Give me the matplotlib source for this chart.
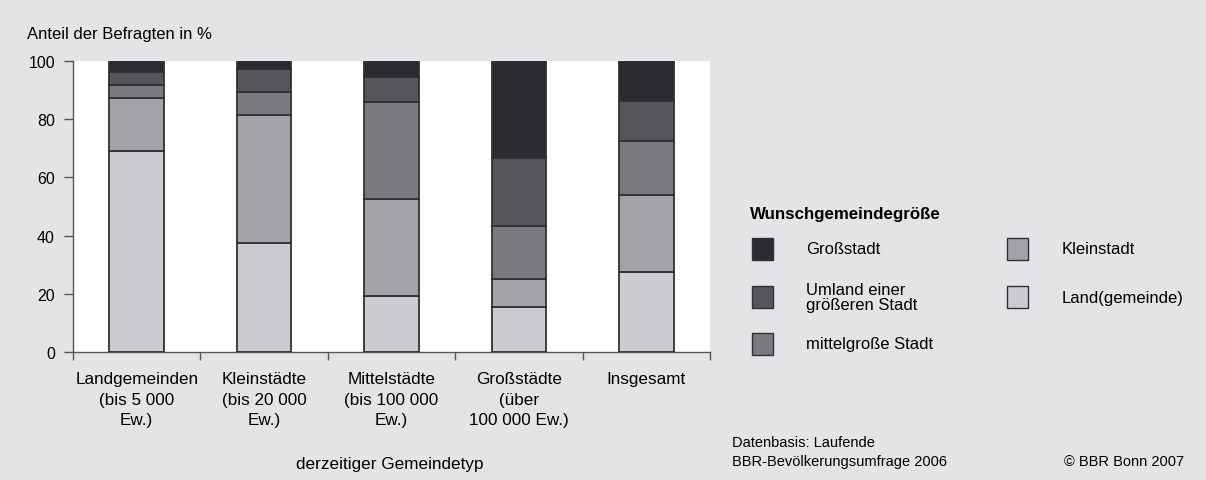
import matplotlib
matplotlib.use("Agg")
import matplotlib.pyplot as plt
from matplotlib.patches import Rectangle

plt.rcParams['font.family'] = ['Liberation Sans', 'DejaVu Sans']

# Data (Anteil der Befragten in %), stacked from bottom to top
categories = ["Landgemeinden\n(bis 5 000\nEw.)", "Kleinstädte\n(bis 20 000\nEw.)",
              "Mittelstädte\n(bis 100 000\nEw.)", "Großstädte\n(über\n100 000 Ew.)",
              "Insgesamt"]
land = [69.2, 37.3, 19.4, 15.3, 27.4]
kleinstadt = [18.1, 44.1, 33.3, 9.8, 26.7]
mittel = [4.6, 7.9, 33.3, 18.3, 18.3]
umland = [4.4, 8.1, 8.5, 23.4, 13.7]
grossstadt = [3.7, 2.6, 5.5, 33.2, 13.9]

series = [
    ("Land(gemeinde)", land, "#cbcccf"),
    ("Kleinstadt", kleinstadt, "#a1a3a7"),
    ("mittelgroße Stadt", mittel, "#7a7b80"),
    ("Umland einer\ngrößeren Stadt", umland, "#55565a"),
    ("Großstadt", grossstadt, "#2b2c30"),
]

W, H = 1206, 481
bg = "#e3e4e6"
edge = "#303134"

def fx(x):
    return x / W

def fy(y):
    return 1 - y / H

fig = plt.figure(figsize=(W / 100, H / 100), dpi=100, facecolor=bg)
ax = fig.add_axes([fx(73), fy(353), (710 - 73) / W, (353 - 62) / H])
ax.set_facecolor("white")

xs = list(range(len(categories)))
bottom = [0] * len(categories)
for name, vals, col in series:
    ax.bar(xs, vals, bottom=bottom, width=0.43, color=col,
           edgecolor=edge, linewidth=1.3, zorder=3)
    bottom = [b + v for b, v in zip(bottom, vals)]

ax.set_xlim(-0.5, 4.5)
ax.set_ylim(0, 100)
ax.set_yticks([0, 20, 40, 60, 80, 100])
ax.tick_params(axis='y', direction='out', length=6.5, width=1, color="#555",
               labelsize=11.5, pad=6.5)
ax.set_xticks([x - 0.5 for x in range(6)])
ax.set_xticklabels([])
ax.tick_params(axis='x', direction='out', length=6, width=1, color="#555")
for x, lab in zip(xs, categories):
    ax.text(x, -6.5, lab, ha='center', va='top', fontsize=12.3,
            linespacing=1.47, transform=ax.transData, clip_on=False)
for s in ("top", "right"):
    ax.spines[s].set_visible(False)
for s in ("left", "bottom"):
    ax.spines[s].set_color("#555")
    ax.spines[s].set_linewidth(1)

fig.text(fx(27), fy(34), "Anteil der Befragten in %", fontsize=12, va='center')
fig.text(fx(390), fy(464), "derzeitiger Gemeindetyp", fontsize=12.3,
         ha='center', va='center')

# legend
fig.text(fx(750), fy(215), "Wunschgemeindegröße", fontsize=12.2,
         fontweight='bold', va='center')
legend_pos = {
    "Großstadt": (752, 250),
    "Umland einer\ngrößeren Stadt": (752, 298),
    "mittelgroße Stadt": (752, 345),
    "Kleinstadt": (1007, 250),
    "Land(gemeinde)": (1007, 298),
}
for name, vals, col in series:
    px, py = legend_pos[name]
    fig.add_artist(Rectangle((fx(px), fy(py + 11)), 21 / W, 22 / H,
                             transform=fig.transFigure, facecolor=col,
                             edgecolor=edge, linewidth=1))
    tx = px + 54 if px < 900 else px + 55
    fig.text(fx(tx), fy(py), name, fontsize=12, va='center',
             linespacing=1.05)

fig.text(fx(732), fy(443), "Datenbasis: Laufende", fontsize=10.5, va='center')
fig.text(fx(732), fy(462), "BBR-Bevölkerungsumfrage 2006", fontsize=10.5,
         va='center')
fig.text(fx(1184), fy(462), "© BBR Bonn 2007", fontsize=10.5, ha='right',
         va='center')

fig.savefig("out.png", dpi=100, facecolor=bg)
